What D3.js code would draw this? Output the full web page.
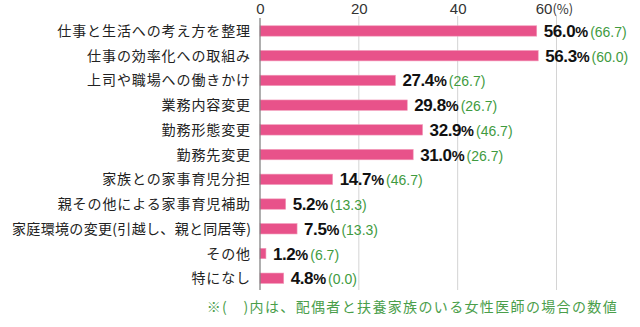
<!DOCTYPE html>
<html>
<head>
<meta charset="utf-8">
<script src="https://cdn.jsdelivr.net/npm/d3@7"></script>
<style>
  html, body { margin: 0; padding: 0; background: #fff; }
  svg { display: block; }
</style>
</head>
<body>
<svg id="chart" width="640" height="327"></svg>
<script>
// Work-style changes made, share of respondents (%)
const categories = [
  "仕事と生活への考え方を整理",
  "仕事の効率化への取組み",
  "上司や職場への働きかけ",
  "業務内容変更",
  "勤務形態変更",
  "勤務先変更",
  "家族との家事育児分担",
  "親その他による家事育児補助",
  "家庭環境の変更(引越し、親と同居等)",
  "その他",
  "特になし"
];
const values = [56.0, 56.3, 27.4, 29.8, 32.9, 31.0, 14.7, 5.2, 7.5, 1.2, 4.8];
// Female doctors with spouse and dependents
const subValues = [66.7, 60.0, 26.7, 26.7, 46.7, 26.7, 46.7, 13.3, 13.3, 6.7, 0.0];
const tickValues = [0, 20, 40, 60];
const note = "※(　)内は、配偶者と扶養家族のいる女性医師の場合の数値";

const svg = d3.select("#chart");
const font = "'Noto Sans CJK JP', 'Noto Sans', sans-serif";
const numFont = "'Liberation Sans', Arial, sans-serif";

const x = d3.scaleLinear().domain([0, 60]).range([260, 556.5]);
const y = d3.scaleBand().domain(categories).range([18.6, 290.6]).paddingInner(0.58).paddingOuter(0.29);

// vertical gridlines
svg.append("g").selectAll("line")
  .data(tickValues.filter(d => d > 0))
  .join("line")
  .attr("x1", d => x(d)).attr("x2", d => x(d))
  .attr("y1", 16).attr("y2", 290)
  .attr("stroke", "#d4d4d4").attr("stroke-width", 1);

// top axis labels
const axis = d3.axisTop(x).tickValues(tickValues).tickSize(0).tickFormat(d3.format("d"));
const ag = svg.append("g").attr("transform", "translate(0,9)").call(axis);
ag.select(".domain").remove();
ag.selectAll("text")
  .attr("font-family", numFont).attr("font-size", 15).attr("fill", "#333")
  .attr("dy", "0.34em").attr("y", 0);
const t60 = ag.selectAll(".tick").filter(d => d === 60).select("text");
t60.append("tspan").attr("font-family", font).attr("font-size", 13).text("(%)");
t60.attr("x", -2.5);

// bars
svg.append("g").selectAll("rect")
  .data(values)
  .join("rect")
  .attr("x", x(0))
  .attr("y", (d, i) => y(categories[i]))
  .attr("width", d => x(d) - x(0))
  .attr("height", y.bandwidth())
  .attr("fill", "#e8528a")
  .attr("stroke", "#f29ab9").attr("stroke-width", 0.6);

// zero axis line
svg.append("line")
  .attr("x1", x(0)).attr("x2", x(0))
  .attr("y1", 18).attr("y2", 290)
  .attr("stroke", "#7a7a7a").attr("stroke-width", 1.2);

// category labels (long ones are squeezed to fit the left margin)
const maxLabel = 239;
svg.append("g").selectAll("text")
  .data(categories)
  .join("text")
  .attr("x", 251)
  .attr("y", d => y(d) + y.bandwidth() / 2)
  .attr("dy", "0.36em")
  .attr("text-anchor", "end")
  .attr("font-family", font).attr("font-size", 14).attr("fill", "#222")
  .attr("letter-spacing", 0.9)
  .text(d => d)
  .each(function () {
    if (this.getComputedTextLength() > maxLabel) {
      d3.select(this).attr("letter-spacing", null)
        .attr("textLength", maxLabel).attr("lengthAdjust", "spacing");
    }
  });

// value labels
const vl = svg.append("g").selectAll("text")
  .data(values)
  .join("text")
  .attr("x", d => x(d) + 7)
  .attr("y", (d, i) => y(categories[i]) + y.bandwidth() / 2)
  .attr("dy", "0.38em")
  .attr("font-family", numFont);
vl.append("tspan").attr("font-size", 17).attr("font-weight", "bold").attr("fill", "#111")
  .attr("letter-spacing", -0.4)
  .text(d => d.toFixed(1));
vl.append("tspan").attr("font-size", 14.5).attr("font-weight", "bold").attr("fill", "#111")
  .text("%");
vl.append("tspan").attr("font-size", 14).attr("fill", "#3f9b3f").attr("dx", 2)
  .text((d, i) => "(" + subValues[i].toFixed(1) + ")");

// footnote
svg.append("text")
  .attr("x", 618).attr("y", 307).attr("dy", "0.36em")
  .attr("text-anchor", "end")
  .attr("font-family", font).attr("font-size", 14).attr("fill", "#4a9e4a")
  .attr("letter-spacing", 1.35)
  .text(note);
</script>
</body>
</html>
